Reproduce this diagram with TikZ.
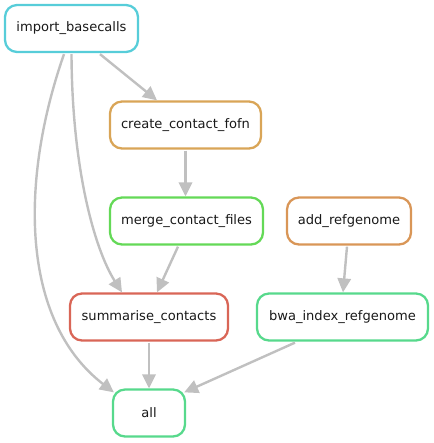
\documentclass[tikz,border=0pt]{standalone}
\usepackage{fontspec}
\setmainfont{DejaVu Sans}
\usetikzlibrary{arrows.meta,calc}
\definecolor{cImp}{HTML}{57CDD9}
\definecolor{cCre}{HTML}{D9A557}
\definecolor{cAdd}{HTML}{D99657}
\definecolor{cMer}{HTML}{64D957}
\definecolor{cSum}{HTML}{D96657}
\definecolor{cGrn}{HTML}{57D98C}
\definecolor{cEdge}{HTML}{C0C0C0}
\tikzset{
  job/.style={draw, line width=1.7pt, rounded corners=9pt, fill=white,
    minimum height=47*0.75pt, inner sep=0pt,
    font=\fontsize{9.8pt}{11pt}\selectfont, text=black!90},
  dep/.style={draw=cEdge, line width=1.8pt, -{Triangle[length=10.5pt,width=10pt]}},
}
\begin{document}
\begin{tikzpicture}[x=0.75pt,y=-0.75pt]
\useasboundingbox (0,0) rectangle (433,443);
\node[job, draw=cImp, minimum width=133*0.75pt] (imp) at (71.5,28.5) {import\_basecalls};
\node[job, draw=cCre, minimum width=151*0.75pt] (cre) at (185.5,125) {create\_contact\_fofn};
\node[job, draw=cMer, minimum width=153*0.75pt] (mer) at (186.5,221) {merge\_contact\_files};
\node[job, draw=cAdd, minimum width=124*0.75pt] (add) at (349,221) {add\_refgenome};
\node[job, draw=cSum, minimum width=158*0.75pt] (sum) at (149,317) {summarise\_contacts};
\node[job, draw=cGrn, minimum width=171*0.75pt] (bwa) at (342.5,317) {bwa\_index\_refgenome};
\node[job, draw=cGrn, minimum width=72*0.75pt] (all) at (149,413) {all};

\draw[dep] ($(imp.south)+(28.5,1)$) -- ($(cre.north)+(-28.5,0)$);
\draw[dep] ($(imp.south)+(0,1)$) .. controls (72,170) and (95,250) .. ($(sum.north)+(-27,0)$);
\draw[dep] ($(imp.south)+(-7.5,1)$) .. controls (20,180) and (20,320) .. ($(all.north west)+(2,4)$);
\draw[dep] ($(cre.south)+(0,1)$) -- ($(mer.north)+(-1,0)$);
\draw[dep] ($(mer.south)+(-8.5,1)$) -- ($(sum.north)+(8,0)$);
\draw[dep] ($(add.south)+(-2,1)$) -- ($(bwa.north)+(0.5,0)$);
\draw[dep] ($(sum.south)+(0,1)$) -- (all.north);
\draw[dep] ($(bwa.south)+(-47.5,1)$) -- ($(all.north east)+(-2,4)$);
\end{tikzpicture}
\end{document}
